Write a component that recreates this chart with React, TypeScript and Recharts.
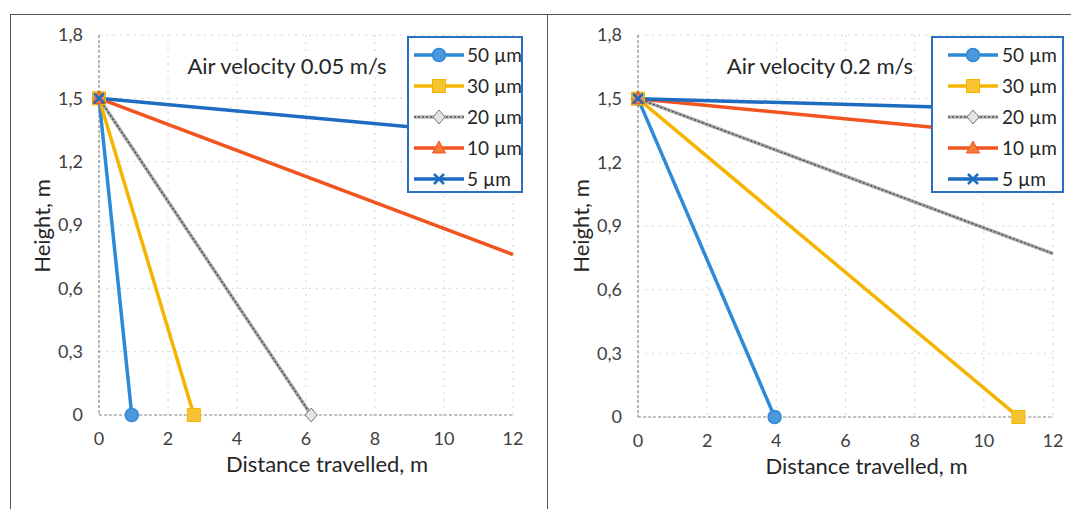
import { LineChart, Line, XAxis, YAxis, CartesianGrid, Legend } from "recharts";

const FONT = "Lato, 'Noto Sans', sans-serif";

const xTicks = [0, 2, 4, 6, 8, 10, 12];
const yTicks = [0, 0.3, 0.6, 0.9, 1.2, 1.5, 1.8];

const seriesNames = ["50 µm", "30 µm", "20 µm", "10 µm", "5 µm"];
const seriesColors = ["#2f8ad6", "#f5b400", "#a8a8a8", "#f2541f", "#1d6cc0"];
const seriesShapes = ["circle", "square", "diamond", "triangle", "cross"];

// air velocity 0.05 m/s
const slow50 = [{ x: 0, y: 1.5 }, { x: 0.95, y: 0 }];
const slow30 = [{ x: 0, y: 1.5 }, { x: 2.75, y: 0 }];
const slow20 = [{ x: 0, y: 1.5 }, { x: 6.15, y: 0 }];
const slow10 = [{ x: 0, y: 1.5 }, { x: 12, y: 0.76 }];
const slow5 = [{ x: 0, y: 1.5 }, { x: 12, y: 1.32 }];

// air velocity 0.2 m/s
const fast50 = [{ x: 0, y: 1.5 }, { x: 3.95, y: 0 }];
const fast30 = [{ x: 0, y: 1.5 }, { x: 11, y: 0 }];
const fast20 = [{ x: 0, y: 1.5 }, { x: 12, y: 0.77 }];
const fast10 = [{ x: 0, y: 1.5 }, { x: 12, y: 1.31 }];
const fast5 = [{ x: 0, y: 1.5 }, { x: 12, y: 1.446 }];

function Marker({ shape, cx, cy, color }: { shape: string; cx: number; cy: number; color: string }) {
  if (shape === "circle")
    return <circle cx={cx} cy={cy} r={6.5} fill="#4d97dc" stroke={color} strokeWidth={1.5} />;
  if (shape === "square")
    return <rect x={cx - 6.5} y={cy - 6.5} width={13} height={13} fill="#f6c433" stroke={color} strokeWidth={1} />;
  if (shape === "diamond")
    return (
      <polygon
        points={`${cx},${cy - 7} ${cx + 6},${cy} ${cx},${cy + 7} ${cx - 6},${cy}`}
        fill="#e4e4e4"
        stroke="#777"
        strokeWidth={1}
      />
    );
  if (shape === "triangle")
    return <polygon points={`${cx},${cy - 7} ${cx + 6.5},${cy + 5} ${cx - 6.5},${cy + 5}`} fill="#f47a3a" stroke={color} strokeWidth={1} />;
  return (
    <path
      d={`M${cx - 5},${cy - 5}L${cx + 5},${cy + 5}M${cx - 5},${cy + 5}L${cx + 5},${cy - 5}`}
      stroke={color}
      strokeWidth={2.5}
    />
  );
}

// the lines run on past the right edge, so no marker is drawn there
function dotFor(i: number) {
  return (p: any) =>
    p.payload && p.payload.x >= 12 ? (
      <g key={`d${i}-${p.index}`} />
    ) : (
      <Marker key={`d${i}-${p.index}`} shape={seriesShapes[i]} cx={p.cx} cy={p.cy} color={seriesColors[i]} />
    );
}

function LegendBox({ padLeft, gap }: { padLeft: number; gap: number }) {
  return (
    <div
      style={{
        width: "100%",
        height: "100%",
        boxSizing: "border-box",
        border: "2px solid #2a6fc4",
        background: "#fff",
        paddingTop: 1,
      }}
    >
      {seriesNames.map((name, i) => (
        <div
          key={name}
          style={{ display: "flex", alignItems: "center", height: 31, paddingLeft: padLeft, whiteSpace: "nowrap" }}
        >
          <svg width={50} height={16} style={{ overflow: "visible", flex: "none" }}>
            {i === 2 ? (
              <>
                <line x1={0} y1={8} x2={50} y2={8} stroke="#b5b5b5" strokeWidth={3.5} />
                <line x1={0} y1={8} x2={50} y2={8} stroke="#555" strokeWidth={1.3} strokeDasharray="2 2" />
              </>
            ) : (
              <line x1={0} y1={8} x2={50} y2={8} stroke={seriesColors[i]} strokeWidth={3.5} />
            )}
            <Marker shape={seriesShapes[i]} cx={25} cy={8} color={seriesColors[i]} />
          </svg>
          <span style={{ marginLeft: gap, fontSize: 19, color: "#262626", fontFamily: FONT }}>{name}</span>
        </div>
      ))}
    </div>
  );
}

const fmtY = (v: number) => (v === 0 ? "0" : v.toFixed(1).replace(".", ","));

function Panel({
  series,
  width,
  margin,
  title,
  titleX,
  legendBox,
  legendPad,
  legendGap,
}: {
  series: { x: number; y: number }[][];
  width: number;
  margin: { top: number; right: number; bottom: number; left: number };
  title: string;
  titleX: number;
  legendBox: { left: number; top: number; width: number; height: number };
  legendPad: number;
  legendGap: number;
}) {
  return (
    <div style={{ position: "relative", width, height: 509 }}>
      <LineChart width={width} height={509} margin={margin}>
        <CartesianGrid stroke="#d4d4d4" strokeDasharray="2 5" />
        <XAxis
          type="number"
          dataKey="x"
          domain={[0, 12]}
          ticks={xTicks}
          height={60}
          tickLine={false}
          tickMargin={11}
          axisLine={{ stroke: "#8c8c8c", strokeDasharray: "3 2" }}
          tick={{ fontSize: 18, fill: "#404040", fontFamily: FONT }}
          label={(p: any) => (
            <text
              x={p.viewBox.x + p.viewBox.width / 2 + 21}
              y={p.viewBox.y + 57}
              textAnchor="middle"
              fontSize={22}
              fill="#262626"
              fontFamily={FONT}
            >
              Distance travelled, m
            </text>
          )}
        />
        <YAxis
          type="number"
          domain={[0, 1.8]}
          ticks={yTicks}
          width={60}
          tickLine={false}
          tickMargin={10}
          tickFormatter={fmtY}
          axisLine={{ stroke: "#777", strokeDasharray: "3 2" }}
          tick={{ fontSize: 18, fill: "#404040", fontFamily: FONT }}
          label={(p: any) => {
            const cx = p.viewBox.x + 2;
            const cy = 226;
            return (
              <text
                x={cx}
                y={cy}
                transform={`rotate(-90, ${cx}, ${cy})`}
                textAnchor="middle"
                dominantBaseline="central"
                fontSize={22}
                fill="#262626"
                fontFamily={FONT}
              >
                Height, m
              </text>
            );
          }}
        />
        <Legend
          layout="vertical"
          align="center"
          verticalAlign="middle"
          wrapperStyle={{ ...legendBox, position: "absolute" }}
          content={() => <LegendBox padLeft={legendPad} gap={legendGap} />}
        />
        {series.map((d, i) => (
          <Line
            key={seriesNames[i]}
            data={d}
            dataKey="y"
            name={seriesNames[i]}
            stroke={seriesColors[i]}
            strokeWidth={3.5}
            dot={dotFor(i)}
            activeDot={false}
            isAnimationActive={false}
          />
        ))}
        {/* dark speckle overlay for the 20 µm line */}
        <Line
          data={series[2]}
          dataKey="y"
          stroke="#4a4a4a"
          strokeWidth={1.3}
          strokeDasharray="2 2"
          dot={false}
          activeDot={false}
          legendType="none"
          isAnimationActive={false}
        />
      </LineChart>
      <div
        style={{
          position: "absolute",
          left: titleX,
          top: 53,
          transform: "translateX(-50%)",
          whiteSpace: "nowrap",
          fontSize: 22,
          lineHeight: "26px",
          color: "#262626",
          fontFamily: FONT,
        }}
      >
        {title}
      </div>
    </div>
  );
}

export default function App() {
  return (
    <div style={{ position: "absolute", left: 0, top: 0, width: 1071, height: 509, background: "#fff", overflow: "hidden" }}>
      <div style={{ position: "absolute", left: 10, top: 14, width: 1061, height: 1, background: "#555" }} />
      <div style={{ position: "absolute", left: 10, top: 14, width: 1, height: 495, background: "#555" }} />
      <div style={{ position: "absolute", left: 547, top: 14, width: 1, height: 495, background: "#555" }} />
      <div style={{ position: "absolute", left: 0, top: 0 }}>
        <Panel
          series={[slow50, slow30, slow20, slow10, slow5]}
          width={547}
          margin={{ top: 35, right: 34, bottom: 34, left: 39 }}
          title="Air velocity 0.05 m/s"
          titleX={287}
          legendBox={{ left: 407, top: 36, width: 116, height: 157 }}
          legendPad={5}
          legendGap={3}
        />
      </div>
      <div style={{ position: "absolute", left: 548, top: 0 }}>
        <Panel
          series={[fast50, fast30, fast20, fast10, fast5]}
          width={523}
          margin={{ top: 35, right: 18, bottom: 32, left: 30 }}
          title="Air velocity 0.2 m/s"
          titleX={272}
          legendBox={{ left: 383, top: 36, width: 133, height: 157 }}
          legendPad={15}
          legendGap={4}
        />
      </div>
    </div>
  );
}
